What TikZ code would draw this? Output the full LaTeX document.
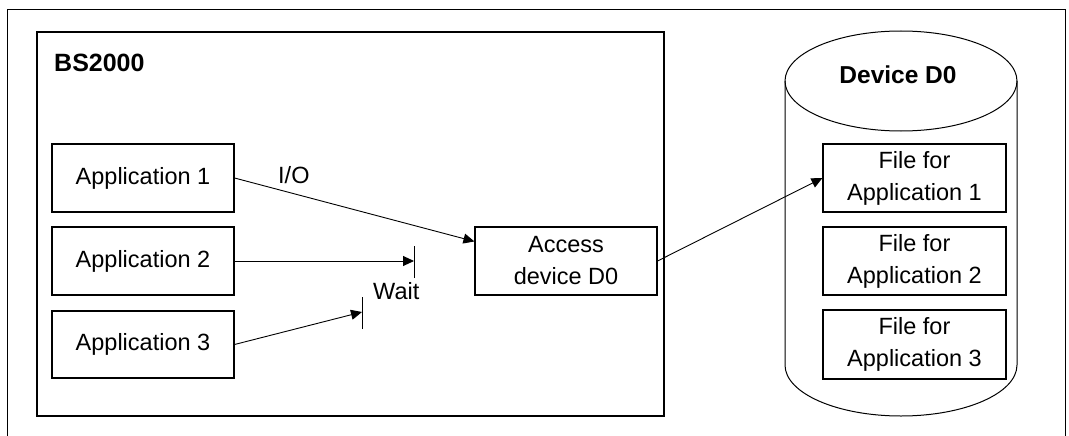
\documentclass[tikz,border=0pt]{standalone}
\usepackage{fontspec}
\setmainfont{Liberation Sans}
\usetikzlibrary{arrows.meta}
\begin{document}
\begin{tikzpicture}[x=1pt,y=-1pt,
  box/.style={draw, line width=1.1pt, inner sep=0pt, minimum width=182pt, minimum height=68pt,
    align=center, font=\fontsize{23.5}{32}\selectfont},
  txt/.style={inner sep=0pt, font=\fontsize{23.5}{32}\selectfont},
  btxt/.style={inner sep=0pt, font=\fontsize{25}{30}\selectfont\bfseries},
  conn/.style={line width=0.9pt, -{Triangle[length=11pt,width=10pt]}},
  bar/.style={line width=1pt}]
\useasboundingbox (0,0) rectangle (1069,436);
% outer frame (open at the bottom)
\draw[line width=1pt] (7.5,436) -- (7.5,9.5) -- (1065,9.5) -- (1065,436);
% BS2000 box
\draw[line width=1.1pt] (37,32) rectangle (664,416);
\node[btxt, anchor=base west] (bs) at (54,71) {BS2000};
% applications
\node[box] (app1) at (143,178) {Application 1};
\node[box] (app2) at (143,261) {Application 2};
\node[box, minimum height=67pt] (app3) at (143,344.5) {Application 3};
\node[box] (access) at (566,261) {Access\\device D0};
% cylinder
\draw[line width=1pt] (901,81) ellipse [x radius=116pt, y radius=50pt];
\draw[line width=1pt] (785,81) -- (785,365) arc[start angle=180, end angle=360, x radius=116pt, y radius=51pt] -- (1017,81);
\node[btxt, font=\fontsize{24.5}{30}\selectfont\bfseries, anchor=base] (dev) at (898,84) {Device D0};
\node[box, minimum width=183pt] (f1) at (914.5,178) {File for\\Application 1};
\node[box, minimum width=183pt] (f2) at (914.5,261) {File for\\Application 2};
\node[box, minimum width=183pt, minimum height=69pt] (f3) at (914.5,344.5) {File for\\Application 3};
% connectors
\draw[conn] (app1.east) -- ([yshift=-15pt]access.north west);
\node[txt, anchor=base west] (io) at (278,183) {I/O};
\coordinate (w2) at (414,261);
\coordinate (w3) at (362,312);
\draw[conn] (app2.east) -- (w2);
\draw[conn] (app3.east) -- (w3);
\draw[bar] ([yshift=-17pt]w2) -- ([yshift=15pt]w2);
\draw[bar] ([yshift=-17pt]w3) -- ([yshift=15pt]w3);
\node[txt, anchor=base west] (wait) at (373,299) {Wait};
\draw[conn] (access.east) -- (f1.west);
\end{tikzpicture}
\end{document}
